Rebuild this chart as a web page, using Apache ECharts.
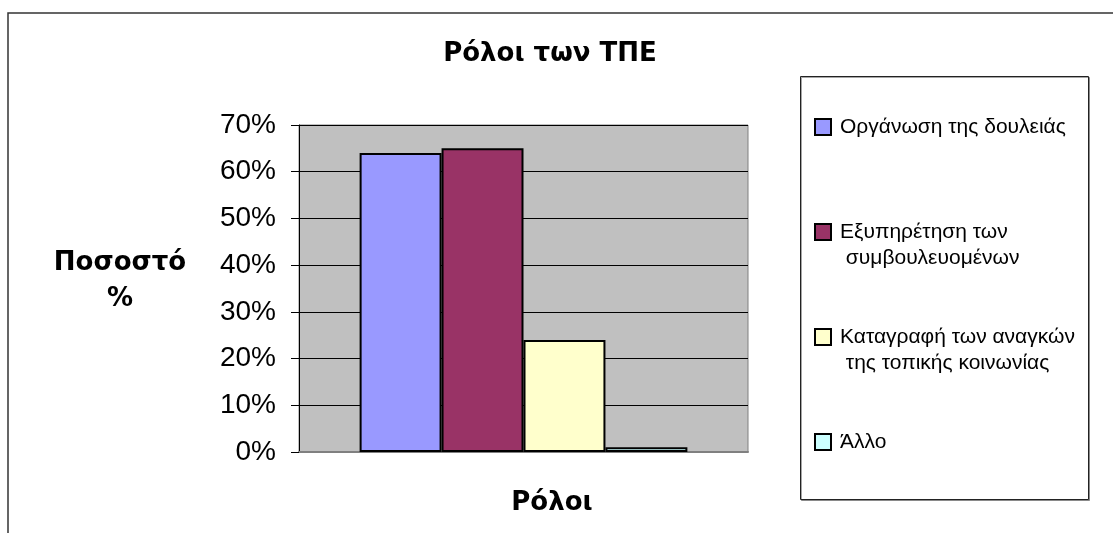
<!DOCTYPE html>
<html>
<head>
<meta charset="utf-8">
<script src="https://cdn.jsdelivr.net/npm/echarts@6/dist/echarts.min.js"></script>
<style>
html,body{margin:0;padding:0;background:#fff;}
#chart{width:1113px;height:533px;}
</style>
</head>
<body>
<div id="chart"></div>
<script>
var categories = ['Ρόλοι'];
var seriesNames = ['Οργάνωση της δουλειάς', 'Εξυπηρέτηση των\n συμβουλευομένων', 'Καταγραφή των αναγκών\n της τοπικής κοινωνίας', 'Άλλο'];
var seriesValues = [[64], [65], [24], [1]];
var seriesColors = ['#9999FF', '#993366', '#FFFFCC', '#CCFFFF'];
var yTicks = [0, 10, 20, 30, 40, 50, 60, 70];

var FONT = 'Liberation Sans, Arial, sans-serif';
var BFONT = 'DejaVu Sans, Verdana, sans-serif';
var legendCenters = [127, 232, 337, 442];

var chart = echarts.init(document.getElementById('chart'), null, {renderer: 'canvas'});

var series = seriesNames.map(function (n, i) {
  return {
    name: n,
    type: 'bar',
    data: seriesValues[i],
    barGap: '0%',
    barCategoryGap: '27%',
    itemStyle: {color: seriesColors[i], borderColor: '#000', borderWidth: 2},
    emphasis: {disabled: true}
  };
});

var legends = seriesNames.map(function (n, i) {
  var twoLines = n.indexOf('\n') >= 0;
  return {
    data: [n],
    orient: 'vertical',
    left: 814,
    top: legendCenters[i] - (twoLines ? 39 : 13),
    padding: 0,
    itemWidth: 16,
    itemHeight: 16,
    itemGap: 0,
    icon: 'rect',
    formatter: function (name) {
      var lines = name.split('\n').map(function (l) { return '{t|' + l + '}'; });
      if (lines.length > 1) { lines.unshift('{e|\u00a0}'); }
      return lines.join('\n');
    },
    textStyle: {
      fontFamily: FONT,
      fontSize: 21,
      color: '#000',
      lineHeight: 26,
      rich: {
        t: {fontFamily: FONT, fontSize: 21, color: '#000', lineHeight: 26, padding: [0, 0, 0, 4]},
        e: {fontFamily: FONT, fontSize: 21, lineHeight: 26}
      }
    }
  };
});

chart.setOption({
  animation: false,
  title: [
    {
      text: 'Ρόλοι των ΤΠΕ',
      left: 550,
      top: 39,
      padding: 0,
      textAlign: 'center',
      textStyle: {fontFamily: BFONT, fontWeight: 'bold', fontSize: 26, color: '#000', lineHeight: 30}
    },
    {
      text: 'Ποσοστό\n%',
      left: 120,
      top: 245,
      padding: 0,
      textAlign: 'center',
      textStyle: {fontFamily: BFONT, fontWeight: 'bold', fontSize: 26, color: '#000', lineHeight: 36, align: 'center'}
    },
    {
      text: 'Ρόλοι',
      left: 552,
      top: 488,
      padding: 0,
      textAlign: 'center',
      textStyle: {fontFamily: BFONT, fontWeight: 'bold', fontSize: 26, color: '#000', lineHeight: 30}
    }
  ],
  legend: legends,
  grid: {
    left: 299, right: 365, top: 125, bottom: 81,
    show: true, backgroundColor: '#C0C0C0', borderColor: '#808080', borderWidth: 1
  },
  xAxis: {
    type: 'category',
    data: categories,
    axisLine: {show: true, lineStyle: {color: '#808080', width: 2}},
    axisTick: {show: false},
    axisLabel: {show: false}
  },
  yAxis: {
    type: 'value',
    min: yTicks[0],
    max: yTicks[yTicks.length - 1],
    interval: 10,
    axisLine: {show: true, lineStyle: {color: '#000', width: 1}},
    axisTick: {show: true, inside: false, length: 8, lineStyle: {color: '#000'}},
    axisLabel: {fontFamily: FONT, fontSize: 28, color: '#000', margin: 23, formatter: '{value}%'},
    splitLine: {show: true, lineStyle: {color: '#000', width: 1}}
  },
  graphic: [
    {type: 'rect', shape: {x: 8, y: 13, width: 1300, height: 700}, style: {fill: null, stroke: '#333', lineWidth: 1.5}, silent: true},
    {type: 'rect', shape: {x: 800.5, y: 76.5, width: 288, height: 423}, style: {fill: '#fff', stroke: '#222', lineWidth: 1, shadowColor: 'rgba(0,0,0,0.35)', shadowOffsetX: 1, shadowOffsetY: 1}, silent: true, z: -1}
  ],
  series: series
});
</script>
</body>
</html>
